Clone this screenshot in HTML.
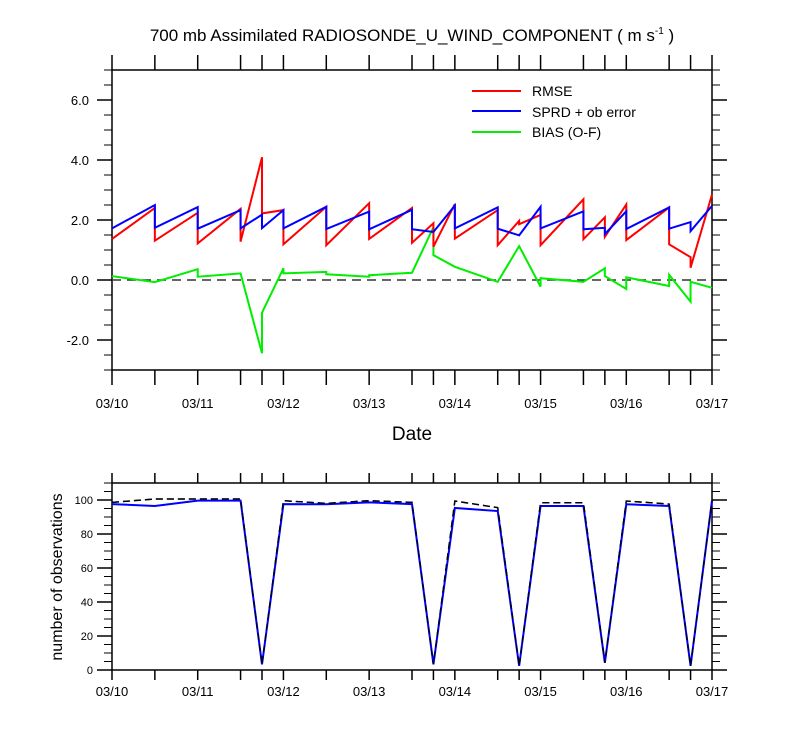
<!DOCTYPE html>
<html><head><meta charset="utf-8"><style>
body{margin:0;background:#fff}
svg{display:block;font-family:"Liberation Sans",Arial,sans-serif}
</style></head><body>
<svg id="chart" width="800" height="750" viewBox="0 0 800 750">
<rect width="800" height="750" fill="#fff"/>
<text x="412" y="41" font-size="17" text-anchor="middle">700 mb Assimilated RADIOSONDE_U_WIND_COMPONENT ( m s<tspan font-size="10" dy="-7">-1</tspan><tspan dy="7"> )</tspan></text>
<g id="topPanel"></g>
<g id="botPanel"></g>
<text x="412" y="440" font-size="19" text-anchor="middle">Date</text>
<text transform="translate(62,577) rotate(-90)" font-size="16" text-anchor="middle">number of observations</text>
<g>
<line x1="472" y1="91" x2="521" y2="91" stroke="#f00" stroke-width="2"/>
<text x="532" y="96" font-size="14">RMSE</text>
<line x1="472" y1="111" x2="521" y2="111" stroke="#00f" stroke-width="2"/>
<text x="532" y="117" font-size="14">SPRD + ob error</text>
<line x1="472" y1="132" x2="521" y2="132" stroke="#0e0" stroke-width="2"/>
<text x="532" y="137" font-size="14">BIAS (O-F)</text>
</g>
</svg>
<script>
const times = [0,0.5,1,1.5,1.75,2,2.5,3,3.5,3.75,4,4.5,4.75,5,5.5,5.75,6,6.5,6.75,7];
const dateLabels = ["03/10","03/11","03/12","03/13","03/14","03/15","03/16","03/17"];
const rmse = [[1.37,1.37],[2.4,1.31],[2.24,1.22],[2.37,1.28],[4.09,2.22],[2.33,1.19],[2.44,1.16],[2.56,1.37],[2.4,1.24],[1.89,1.11],[2.53,1.38],[2.33,1.16],[1.97,1.86],[2.17,1.16],[2.69,1.36],[2.09,1.44],[2.52,1.33],[2.42,1.19],[0.76,0.41],[2.85,2.85]];
const sprd = [[1.72,1.72],[2.5,1.74],[2.43,1.71],[2.33,1.72],[2.18,1.73],[2.33,1.72],[2.44,1.70],[2.28,1.69],[2.34,1.69],[1.6,1.6],[2.48,1.72],[2.42,1.71],[1.49,1.49],[2.44,1.72],[2.29,1.69],[1.74,1.53],[2.29,1.70],[2.42,1.71],[1.93,1.63],[2.47,2.47]];
const bias = [[0.13,0.13],[-0.07,-0.07],[0.36,0.11],[0.22,0.22],[-2.44,-1.09],[0.39,0.22],[0.27,0.19],[0.11,0.16],[0.24,0.24],[1.76,0.83],[0.44,0.44],[-0.06,-0.06],[1.13,1.13],[-0.22,0.06],[-0.06,-0.06],[0.39,0.13],[-0.3,0.09],[-0.2,0.17],[-0.72,-0.06],[-0.26,-0.26]];
const obsUsed = [97.6,96.5,99.6,99.6,3.3,97.6,97.5,98.6,97.6,3.3,95.3,93.5,2.4,96.5,96.5,4.3,97.5,96.5,2.4,99.6];
const obsTotal = [98.6,100.6,100.6,100.6,3.3,99.6,98,99.6,98.6,3.3,99.4,95.5,2.4,98.4,98.4,4.3,99.4,97.6,2.4,99.6];
const topTicks = [-2,0,2,4,6];
const botTicks = [0,20,40,60,80,100];

const NS="http://www.w3.org/2000/svg";
const L=112,R=712;
const X=t=>L+(R-L)*t/7;
const Yt=v=>280-30*v;
const Yb=v=>670-1.7*v;
function mk(parent,tag,attrs){const e=document.createElementNS(NS,tag);for(const k in attrs)e.setAttribute(k,attrs[k]);parent.appendChild(e);return e;}
const gTop=document.getElementById('topPanel'), gBot=document.getElementById('botPanel');

function frame(g,y0,y1,yfn,majors,minorStep,vmin,vmax,fmt,tickLen,prefix){
  const r=mk(g,'rect',{x:L,y:y0,width:R-L,height:y1-y0,fill:'none',stroke:'#000','stroke-width':1.5});
  
  
  times.forEach(t=>{
    const x=X(t);
    const a=mk(g,'line',{x1:x,y1:y0,x2:x,y2:y0-tickLen,stroke:'#000','stroke-width':1.5});
    
    
    const b=mk(g,'line',{x1:x,y1:y1,x2:x,y2:y1+tickLen,stroke:'#000','stroke-width':1.5});
    
    
  });
  dateLabels.forEach((d,i)=>{
    const tx=mk(g,'text',{x:X(i),y:y1+(prefix==='top'?38:26),'font-size':13,'text-anchor':'middle'});
    tx.textContent=d;
    
    
  });
  for(let v=vmin;v<=vmax+1e-9;v+=minorStep){
    const y=yfn(v);
    const isMaj=majors.some(m=>Math.abs(m-v)<1e-6);
    const len=isMaj?15:8;
    const a=mk(g,'line',{x1:L-len,y1:y,x2:L,y2:y,stroke:'#000','stroke-width':isMaj?1.5:1});
    
    
    const b=mk(g,'line',{x1:R,y1:y,x2:R+len,y2:y,stroke:'#000','stroke-width':isMaj?1.5:1});
    
    
  }
  majors.forEach(m=>{
    const tx=mk(g,'text',{x:prefix==='top'?89:93,y:yfn(m)+(prefix==='top'?5:4),'font-size':prefix==='top'?13:11,'text-anchor':'end'});
    tx.textContent=fmt(m);
    
    
  });
}
frame(gTop,70,370,Yt,topTicks,0.5,-3,7,v=>v.toFixed(1),15,'top');
frame(gBot,483,670,Yb,botTicks,5,0,110,v=>String(v),10,'bot');

const zero=mk(gTop,'line',{x1:L,y1:Yt(0),x2:R,y2:Yt(0),stroke:'#333','stroke-width':1.5,'stroke-dasharray':'9,6'});



function pairPts(arr){const p=[];arr.forEach((pr,i)=>{p.push(X(times[i])+','+Yt(pr[0]));p.push(X(times[i])+','+Yt(pr[1]));});return p.join(' ');}
const sBias=mk(gTop,'polyline',{points:pairPts(bias),fill:'none',stroke:'#0e0','stroke-width':2});


const sR=mk(gTop,'polyline',{points:pairPts(rmse),fill:'none',stroke:'#f00','stroke-width':2});


const sS=mk(gTop,'polyline',{points:pairPts(sprd),fill:'none',stroke:'#00f','stroke-width':2});



const pTot=mk(gBot,'polyline',{points:obsTotal.map((v,i)=>X(times[i])+','+Yb(v)).join(' '),fill:'none',stroke:'#000','stroke-width':1.5,'stroke-dasharray':'7,4'});


const pUsed=mk(gBot,'polyline',{points:obsUsed.map((v,i)=>X(times[i])+','+Yb(v)).join(' '),fill:'none',stroke:'#00f','stroke-width':2});


const pTot2=mk(gBot,'polyline',{points:obsTotal.map((v,i)=>X(times[i])+','+Yb(v)).join(' '),fill:'none',stroke:'#000','stroke-width':1.2,'stroke-dasharray':'7,4'});


</script>
</body></html>
